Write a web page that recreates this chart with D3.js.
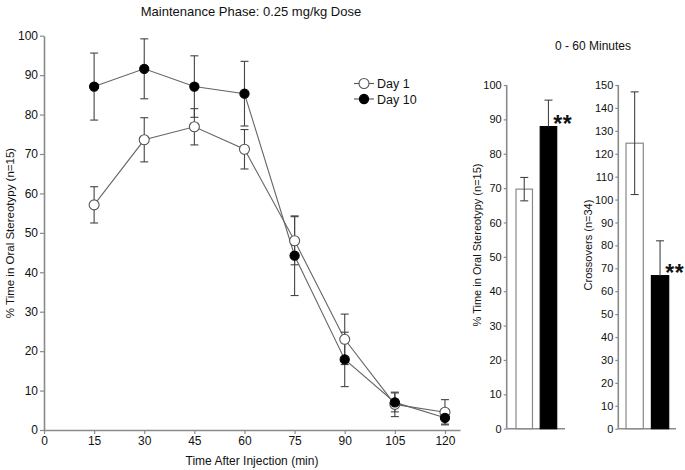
<!DOCTYPE html>
<html lang="en">
<head>
  <meta charset="UTF-8" />
  <title>stereotypy time course</title>
  <script src="https://d3js.org/d3.v7.min.js" charset="utf-8"></script>
  <style>
    body { margin: 0; background: #fff; }
    text { font-family: Arial, "Liberation Sans", sans-serif; fill: #111; }
  </style>
</head>
<body>
<script type="text/javascript">

const WIDTH = 685;
const HEIGHT = 470;
const AXIS = "#8a8a8a";
const ERR = "#444";

// time course (left panel)
const times = [15, 30, 45, 60, 75, 90, 105, 120];
const timeTicks = [0, 15, 30, 45, 60, 75, 90, 105, 120];
const day1Mean = [57.1, 73.6, 76.9, 71.2, 48.0, 23.0, 6.5, 4.5];
const day1Sem = [4.6, 5.6, 4.6, 5.0, 6.1, 6.4, 3.1, 3.2];
const day10Mean = [87.1, 91.6, 87.1, 85.3, 44.2, 17.9, 7.0, 3.1];
const day10Sem = [8.5, 7.6, 7.8, 8.2, 10.1, 6.9, 2.4, 1.6];
const pctTicks = [0, 10, 20, 30, 40, 50, 60, 70, 80, 90, 100];

// 0 - 60 minute summaries (right panels)
const groups = ["Day 1", "Day 10"];
const stereoMean = [69.7, 87.9];
const stereoSem = [3.4, 7.7];
const crossMean = [124.6, 66.8];
const crossSem = [22.4, 15.2];
const crossTicks = [0, 10, 20, 30, 40, 50, 60, 70, 80, 90, 100, 110, 120, 130, 140, 150];

const svg = d3.select("body")
    .append("svg")
        .attr("width", WIDTH)
        .attr("height", HEIGHT);

function styleAxis(g) {
    g.select(".domain").attr("stroke", AXIS).attr("stroke-width", 1.6);
    g.selectAll(".tick line").attr("stroke", AXIS).attr("stroke-width", 1.2);
    g.selectAll(".tick text").attr("fill", "#111");
}

// ---------- left panel ----------
const x = d3.scaleLinear().domain([0, 124.5]).range([44, 460]);
const y = d3.scaleLinear().domain([0, 100]).range([430, 35.7]);

svg.append("g")
    .attr("transform", "translate(44,0)")
    .call(d3.axisLeft(y).tickValues(pctTicks).tickSize(4).tickPadding(2).tickSizeOuter(0))
    .attr("font-size", 12)
    .attr("font-family", "Arial, 'Liberation Sans', sans-serif")
    .call(styleAxis);

svg.append("g")
    .attr("transform", "translate(0,430)")
    .call(d3.axisBottom(x).tickValues(timeTicks).tickSize(4).tickPadding(2).tickSizeOuter(0))
    .attr("font-size", 12)
    .attr("font-family", "Arial, 'Liberation Sans', sans-serif")
    .call(styleAxis);

svg.append("text")
    .attr("x", 251).attr("y", 16)
    .attr("text-anchor", "middle")
    .attr("font-size", 13)
    .text("Maintenance Phase: 0.25 mg/kg Dose");

svg.append("text")
    .attr("x", 252).attr("y", 465)
    .attr("text-anchor", "middle")
    .attr("font-size", 12)
    .text("Time After Injection (min)");

svg.append("text")
    .attr("transform", "translate(14,233) rotate(-90)")
    .attr("text-anchor", "middle")
    .attr("font-size", 11.5)
    .text("% Time in Oral Stereotypy (n=15)");

const series = [
    {key: "Day 1", mean: day1Mean, sem: day1Sem, fill: "#fff", r: 5},
    {key: "Day 10", mean: day10Mean, sem: day10Sem, fill: "#000", r: 4.6}
];

const line = d3.line().x(d => x(d.t)).y(d => y(d.m));
const pts = s => times.map((t, i) => ({t: t, m: s.mean[i], e: s.sem[i]}));

series.forEach(s => {
    svg.append("path")
        .datum(pts(s))
        .attr("fill", "none")
        .attr("stroke", "#666")
        .attr("stroke-width", 1.1)
        .attr("d", line);
});

series.forEach(s => {
    const g = svg.append("g").attr("stroke", ERR).attr("stroke-width", 1.1);
    pts(s).forEach(d => {
        const cx = x(d.t);
        g.append("line").attr("x1", cx).attr("x2", cx)
            .attr("y1", y(d.m - d.e)).attr("y2", y(d.m + d.e));
        [d.m - d.e, d.m + d.e].forEach(v => {
            g.append("line").attr("x1", cx - 4).attr("x2", cx + 4)
                .attr("y1", y(v)).attr("y2", y(v));
        });
    });
});

series.forEach(s => {
    svg.append("g")
        .selectAll("circle")
        .data(pts(s))
        .join("circle")
            .attr("cx", d => x(d.t))
            .attr("cy", d => y(d.m))
            .attr("r", s.r)
            .attr("fill", s.fill)
            .attr("stroke", s.fill === "#000" ? "#000" : "#555")
            .attr("stroke-width", 1.1);
});

// legend
series.forEach((s, i) => {
    const ly = 83.5 + i * 15.5;
    svg.append("line").attr("x1", 354).attr("x2", 374)
        .attr("y1", ly).attr("y2", ly)
        .attr("stroke", "#555").attr("stroke-width", 1.1);
    svg.append("circle").attr("cx", 364).attr("cy", ly).attr("r", s.r)
        .attr("fill", s.fill)
        .attr("stroke", s.fill === "#000" ? "#000" : "#555")
        .attr("stroke-width", 1.1);
    svg.append("text").attr("x", 377).attr("y", ly + 4.5)
        .attr("font-size", 12.5)
        .text(s.key);
});

// ---------- right panels ----------
svg.append("text")
    .attr("x", 593).attr("y", 50)
    .attr("text-anchor", "middle")
    .attr("font-size", 12)
    .text("0 - 60 Minutes");

function barPanel(opt) {
    const yb = d3.scaleLinear().domain([0, opt.max]).range([428.7, 85]);
    const xb = d3.scaleBand().domain(groups).range(opt.bars).paddingInner(0.32).paddingOuter(0);

    svg.append("g")
        .attr("transform", `translate(${opt.axisX},0)`)
        .call(d3.axisLeft(yb).tickValues(opt.ticks).tickSize(3).tickPadding(2).tickSizeOuter(0))
        .attr("font-size", 11)
        .attr("font-family", "Arial, 'Liberation Sans', sans-serif")
        .call(styleAxis)
        .call(g => g.select(".domain").attr("d", `M0,${yb(opt.max)}V${yb(0)}`));

    svg.append("line")
        .attr("x1", opt.axisX).attr("x2", opt.axisEnd)
        .attr("y1", yb(0)).attr("y2", yb(0))
        .attr("stroke", AXIS).attr("stroke-width", 1.6);

    const data = groups.map((k, i) => ({k: k, m: opt.mean[i], e: opt.sem[i]}));

    svg.append("g")
        .selectAll("rect")
        .data(data)
        .join("rect")
            .attr("x", d => xb(d.k))
            .attr("y", d => yb(d.m))
            .attr("width", xb.bandwidth())
            .attr("height", d => yb(0) - yb(d.m))
            .attr("fill", (d, i) => i === 0 ? "#fff" : "#000")
            .attr("stroke", (d, i) => i === 0 ? "#888" : "#000")
            .attr("stroke-width", 1.2);

    const g = svg.append("g").attr("stroke-width", 1.1);
    data.forEach((d, i) => {
        const cx = xb(d.k) + xb.bandwidth() / 2;
        const lo = i === 0 ? d.m - d.e : d.m;
        g.append("line").attr("x1", cx).attr("x2", cx)
            .attr("y1", yb(lo)).attr("y2", yb(d.m + d.e)).attr("stroke", ERR);
        [lo, d.m + d.e].forEach(v => {
            if (v === d.m) return;
            g.append("line").attr("x1", cx - 4).attr("x2", cx + 4)
                .attr("y1", yb(v)).attr("y2", yb(v)).attr("stroke", ERR);
        });
    });

    // significance marker next to Day 10 bar
    const d10 = data[1];
    svg.append("text")
        .attr("x", xb(d10.k) + xb.bandwidth() - 3.5)
        .attr("y", yb(d10.m) + 5.5)
        .attr("font-size", 23)
        .attr("font-weight", "bold")
        .attr("letter-spacing", 0.5)
        .text("**");

    svg.append("text")
        .attr("transform", `translate(${opt.labelX},245) rotate(-90)`)
        .attr("text-anchor", "middle")
        .attr("font-size", 11)
        .text(opt.label);
}

barPanel({
    max: 100, ticks: pctTicks, axisX: 506.7, axisEnd: 565, bars: [516, 556.7],
    mean: stereoMean, sem: stereoSem,
    labelX: 481, label: "% Time in Oral Stereotypy (n=15)"
});

barPanel({
    max: 150, ticks: crossTicks, axisX: 618.3, axisEnd: 676, bars: [626, 668.7],
    mean: crossMean, sem: crossSem,
    labelX: 592, label: "Crossovers (n=34)"
});

</script>
</body>
</html>
